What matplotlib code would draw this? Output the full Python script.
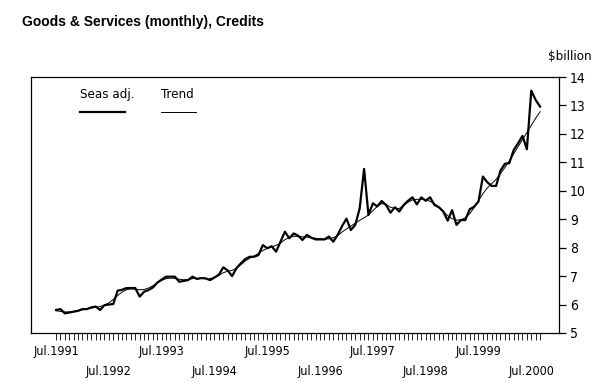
import matplotlib
matplotlib.use("Agg")
import matplotlib.pyplot as plt

# Monthly values, Jul 1991 .. Sep 2000 ($billion)
seas_adj = [
    5.81, 5.84, 5.69, 5.72, 5.75, 5.78, 5.84, 5.84, 5.90, 5.93,
    5.81, 5.98, 6.00, 6.02, 6.49, 6.52, 6.58, 6.58, 6.58, 6.28,
    6.45, 6.51, 6.60, 6.77, 6.88, 6.98, 6.98, 6.98, 6.80, 6.83,
    6.86, 6.98, 6.90, 6.93, 6.92, 6.86, 6.95, 7.05, 7.31, 7.20,
    7.00, 7.28, 7.45, 7.60, 7.68, 7.68, 7.74, 8.09, 7.98, 8.05,
    7.86, 8.21, 8.56, 8.33, 8.50, 8.42, 8.27, 8.45, 8.35, 8.29,
    8.29, 8.29, 8.39, 8.21, 8.45, 8.76, 9.02, 8.62, 8.80, 9.38,
    10.77, 9.15, 9.56, 9.45, 9.64, 9.50, 9.23, 9.42, 9.27, 9.50,
    9.65, 9.77, 9.52, 9.77, 9.65, 9.77, 9.50, 9.42, 9.27, 8.95,
    9.32, 8.80, 8.97, 8.97, 9.35, 9.44, 9.62, 10.50, 10.30, 10.17,
    10.17, 10.71, 10.95, 10.97, 11.43, 11.67, 11.93, 11.46, 13.52, 13.19,
    12.96,
]
trend = [
    5.78, 5.76, 5.74, 5.74, 5.76, 5.79, 5.82, 5.85, 5.88, 5.90,
    5.93, 5.98, 6.06, 6.18, 6.32, 6.44, 6.52, 6.55, 6.54, 6.52,
    6.53, 6.58, 6.66, 6.76, 6.85, 6.91, 6.93, 6.92, 6.89, 6.87,
    6.88, 6.91, 6.92, 6.92, 6.91, 6.91, 6.95, 7.03, 7.12, 7.17,
    7.20, 7.28, 7.40, 7.53, 7.63, 7.71, 7.80, 7.90, 7.98, 8.03,
    8.08, 8.16, 8.28, 8.36, 8.40, 8.40, 8.38, 8.37, 8.35, 8.33,
    8.31, 8.30, 8.31, 8.35, 8.42, 8.55, 8.66, 8.76, 8.86, 8.96,
    9.05, 9.15, 9.30, 9.45, 9.55, 9.52, 9.42, 9.38, 9.38, 9.48,
    9.60, 9.68, 9.70, 9.70, 9.68, 9.63, 9.55, 9.43, 9.28, 9.12,
    9.02, 8.97, 8.98, 9.05, 9.20, 9.40, 9.65, 9.90, 10.10, 10.25,
    10.40, 10.60, 10.82, 11.05, 11.30, 11.55, 11.80, 12.05, 12.30, 12.55,
    12.78,
]
year_labels = ["Jul.1991", "Jul.1992", "Jul.1993", "Jul.1994", "Jul.1995",
               "Jul.1996", "Jul.1997", "Jul.1998", "Jul.1999", "Jul.2000"]
y_ticks = [5, 6, 7, 8, 9, 10, 11, 12, 13, 14]

narrow = dict(family='DejaVu Sans', stretch='condensed')
months = list(range(len(seas_adj)))

fig = plt.figure(figsize=(6.03, 3.89), dpi=100, facecolor='white')
ax = fig.add_axes([31/603, 56/389, 528/603, 256/389])

ax.plot(months, seas_adj, color='black', linewidth=1.6)
ax.plot(months, trend, color='black', linewidth=0.7)

ax.set_xlim(-5.7, 114.3)
ax.set_ylim(5, 14)

for s in ax.spines.values():
    s.set_linewidth(0.9)
    s.set_color('black')

# y axis on the right
ax.yaxis.tick_right()
ax.set_yticks(y_ticks)
ax.set_yticklabels([str(v) for v in y_ticks], fontsize=10, **narrow)
ax.tick_params(axis='y', direction='out', length=5, width=0.9, pad=3)

# monthly ticks, labels every July, alternating rows
ax.set_xticks(months)
xlabels = []
for m in months:
    if m % 12 == 0:
        i = m // 12
        xlabels.append(year_labels[i] if i % 2 == 0 else "\n" + year_labels[i])
    else:
        xlabels.append("")
ax.set_xticklabels(xlabels, fontsize=9, linespacing=1.6, **narrow)
ax.tick_params(axis='x', direction='out', length=5, width=0.6, pad=4)

# legend
ax.text(0.093, 0.93, "Seas adj.", transform=ax.transAxes, fontsize=9.5,
        va='center', ha='left', **narrow)
ax.plot([0.093, 0.178], [0.865, 0.865], transform=ax.transAxes,
        color='black', linewidth=1.6)
ax.text(0.246, 0.93, "Trend", transform=ax.transAxes, fontsize=9.5,
        va='center', ha='left', **narrow)
ax.plot([0.246, 0.313], [0.865, 0.865], transform=ax.transAxes,
        color='black', linewidth=0.7)

fig.text(22/603, 1 - 22/389, "Goods & Services (monthly), Credits",
         family=['Liberation Sans', 'DejaVu Sans'], fontweight='bold',
         fontsize=10, va='center', ha='left')
fig.text(592/603, 1 - 57/389, "\\$billion", fontsize=9.5,
         va='center', ha='right', **narrow)

plt.savefig("out.png", dpi=100, facecolor='white')
plt.close()
